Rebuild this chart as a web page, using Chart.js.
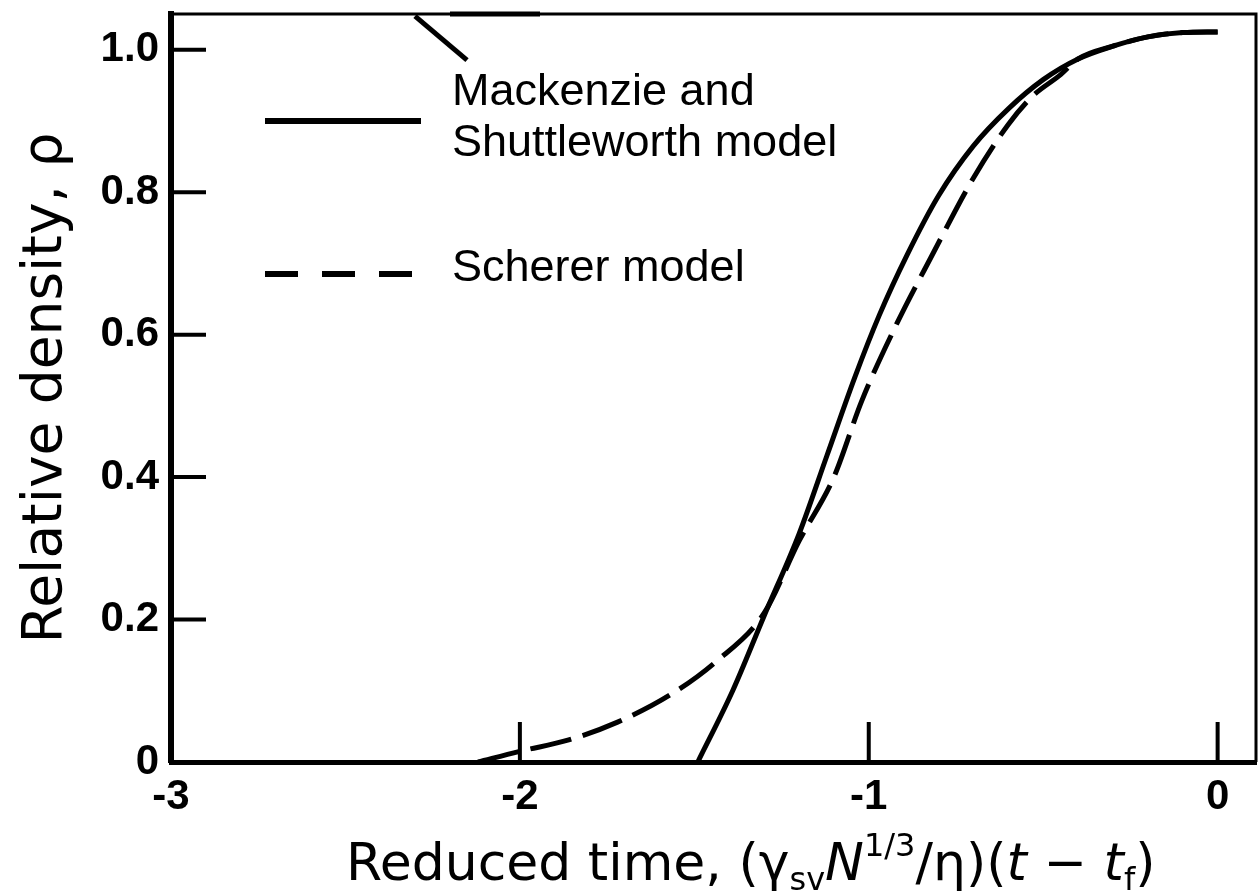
<!DOCTYPE html>
<html>
<head>
<meta charset="utf-8">
<script src="https://cdn.jsdelivr.net/npm/chart.js@4.4.1/dist/chart.umd.min.js"></script>
<style>
  html, body { margin: 0; padding: 0; background: #fff; }
  #wrap { width: 1258px; height: 893px; }
</style>
</head>
<body>
<div id="wrap"><canvas id="chart" width="1258" height="893"></canvas></div>
<script>
// tick values
const xTicks = [-3, -2, -1, 0];
const yTicks = [0, 0.2, 0.4, 0.6, 0.8, 1.0];

// Mackenzie and Shuttleworth model (solid)
const msX = [-1.49, -1.39, -1.30, -1.20, -1.12, -1.04, -0.97, -0.89, -0.80, -0.70, -0.60, -0.50, -0.40, -0.30, -0.20, -0.10, 0];
const msY = [0, 0.10, 0.205, 0.32, 0.43, 0.54, 0.627, 0.712, 0.795, 0.865, 0.917, 0.958, 0.987, 1.005, 1.018, 1.024, 1.025];

// Scherer model (dashed)
const schX = [-2.12, -2.0, -1.86, -1.72, -1.57, -1.44, -1.30, -1.20, -1.10, -1.02, -0.92, -0.82, -0.70, -0.60, -0.53, -0.45, -0.40, -0.30, -0.20, -0.10, 0];
const schY = [0, 0.015, 0.031, 0.056, 0.094, 0.14, 0.209, 0.31, 0.40, 0.507, 0.615, 0.71, 0.82, 0.895, 0.935, 0.965, 0.987, 1.005, 1.018, 1.024, 1.025];

const FONT = "'Liberation Sans', Arial, Helvetica, sans-serif";
const TITLE_FONT = "'DejaVu Sans', Verdana, sans-serif";

function pts(xs, ys){ return xs.map((x, i) => ({ x, y: ys[i] })); }

// x axis title with sub/superscripts, inner ticks, frame, legend
const decor = {
  id: 'decor',
  afterDraw(chart){
    const { ctx, chartArea: a, scales: { x, y } } = chart;
    ctx.save();
    ctx.strokeStyle = '#000';
    ctx.fillStyle = '#000';
    ctx.lineCap = 'butt';

    // top + right frame
    ctx.lineWidth = 3;
    ctx.beginPath();
    ctx.moveTo(a.left, a.top); ctx.lineTo(a.right, a.top); ctx.lineTo(a.right, a.bottom);
    ctx.stroke();
    // thick smudge on the top edge + pointer
    ctx.lineWidth = 5;
    ctx.beginPath(); ctx.moveTo(a.left + 279, a.top); ctx.lineTo(a.left + 369, a.top); ctx.stroke();
    ctx.beginPath(); ctx.moveTo(a.left + 244, a.top + 2); ctx.lineTo(a.left + 296, a.top + 46); ctx.stroke();

    // inner ticks
    ctx.lineWidth = 4;
    for (const v of yTicks){
      if (v === 0) continue;
      const py = y.getPixelForValue(v);
      ctx.beginPath(); ctx.moveTo(a.left, py); ctx.lineTo(a.left + 35, py); ctx.stroke();
    }
    for (const v of xTicks){
      if (v === -3) continue;
      const px = x.getPixelForValue(v);
      ctx.beginPath(); ctx.moveTo(px, a.bottom); ctx.lineTo(px, a.bottom - 40); ctx.stroke();
    }

    // legend
    const lx = a.left + 94;
    ctx.lineWidth = 6;
    ctx.beginPath(); ctx.moveTo(lx, a.top + 107); ctx.lineTo(lx + 156, a.top + 107); ctx.stroke();
    ctx.setLineDash([33, 24]);
    ctx.beginPath(); ctx.moveTo(lx, a.top + 260); ctx.lineTo(lx + 147, a.top + 260); ctx.stroke();
    ctx.setLineDash([]);
    ctx.font = '45px ' + FONT;
    ctx.textBaseline = 'alphabetic';
    ctx.textAlign = 'left';
    ctx.fillText('Mackenzie and', a.left + 281, a.top + 91);
    ctx.fillText('Shuttleworth model', a.left + 281, a.top + 142);
    ctx.fillText('Scherer model', a.left + 281, a.top + 267);

    // x axis title
    const parts = [
      { t: 'Reduced time, (', f: '52px' },
      { t: 'γ', f: '52px' },
      { t: 'sv', f: '32px', dy: 10 },
      { t: 'N', f: 'italic 52px' },
      { t: '1/3', f: '32px', dy: -24 },
      { t: '/η)(', f: '52px' },
      { t: 't', f: 'italic 52px' },
      { t: ' − ', f: '52px' },
      { t: 't', f: 'italic 52px' },
      { t: 'f', f: '32px', dy: 10 },
      { t: ')', f: '52px' }
    ];
    let cx = a.left + 175;
    const base = a.bottom + 118;
    for (const p of parts){
      ctx.font = p.f + ' ' + TITLE_FONT;
      ctx.fillText(p.t, cx, base + (p.dy || 0));
      cx += ctx.measureText(p.t).width;
    }
    ctx.restore();
  }
};

new Chart(document.getElementById('chart'), {
  type: 'line',
  data: {
    datasets: [
      {
        label: 'Mackenzie and Shuttleworth model',
        data: pts(msX, msY),
        borderColor: '#000',
        borderWidth: 5,
        pointRadius: 0,
        cubicInterpolationMode: 'monotone',
        fill: false
      },
      {
        label: 'Scherer model',
        data: pts(schX, schY),
        borderColor: '#000',
        borderWidth: 5,
        borderDash: [42, 12],
        pointRadius: 0,
        cubicInterpolationMode: 'monotone',
        fill: false
      }
    ]
  },
  options: {
    responsive: false,
    animation: false,
    devicePixelRatio: 1,
    layout: { padding: { top: 11, right: 2, left: 0, bottom: 0 } },
    plugins: { legend: { display: false }, tooltip: { enabled: false } },
    scales: {
      x: {
        type: 'linear',
        min: -3,
        max: 0.11,
        afterBuildTicks: s => { s.ticks = xTicks.map(v => ({ value: v })); },
        afterFit: s => { s.height = 131; },
        grid: { display: false, drawTicks: false },
        border: { display: true, width: 5, color: '#000' },
        ticks: {
          autoSkip: false,
          maxRotation: 0,
          padding: 10,
          color: '#000',
          font: { family: FONT, size: 42, weight: 'bold' },
          callback: v => String(v)
        }
      },
      y: {
        min: 0,
        max: 1.05,
        afterBuildTicks: s => { s.ticks = yTicks.map(v => ({ value: v })); },
        afterFit: s => { s.width = 171; },
        grid: { display: false, drawTicks: false },
        border: { display: true, width: 6, color: '#000' },
        title: {
          display: true,
          text: 'Relative density, ρ',
          color: '#000',
          font: { family: TITLE_FONT, size: 55 },
          padding: { top: 14, bottom: 0 }
        },
        ticks: {
          autoSkip: false,
          padding: 12,
          color: '#000',
          font: { family: FONT, size: 42, weight: 'bold', lineHeight: 0.1 },
          callback: v => v === 0 ? '0' : v.toFixed(1)
        }
      }
    }
  },
  plugins: [decor]
});
</script>
</body>
</html>
